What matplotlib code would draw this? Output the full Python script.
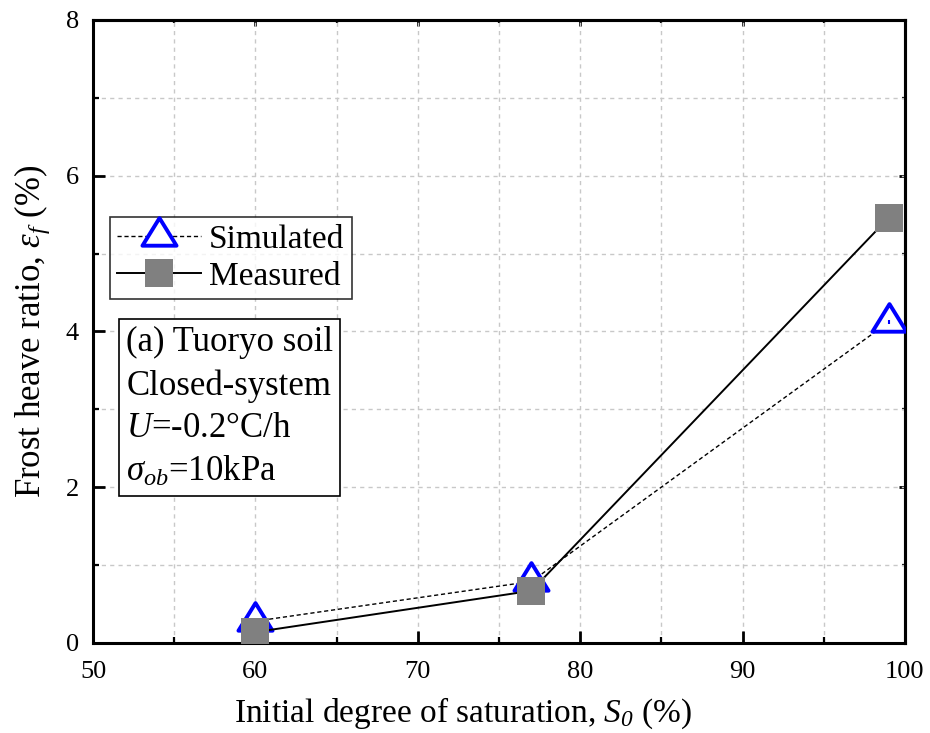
import matplotlib
matplotlib.use("Agg")
import matplotlib.pyplot as plt
from matplotlib.path import Path
from matplotlib.ticker import MultipleLocator

# Frost heave ratio vs. initial degree of saturation
saturation = [60, 77, 99]
simulated = [0.28, 0.79, 4.12]
measured = [0.14, 0.67, 5.46]

x_ticks = [50, 60, 70, 80, 90, 100]
y_ticks = [0, 2, 4, 6, 8]

plt.rcParams["font.family"] = ["Liberation Serif", "DejaVu Serif"]
plt.rcParams["mathtext.fontset"] = "custom"
plt.rcParams["mathtext.rm"] = "Liberation Serif"
plt.rcParams["mathtext.it"] = "Liberation Serif:italic"
plt.rcParams["mathtext.sf"] = "Liberation Serif:italic"
plt.rcParams["mathtext.bf"] = "Liberation Serif:bold"

fig = plt.figure(figsize=(9.3, 7.33), dpi=100)
ax = fig.add_axes([0.100, 0.1228, 0.873, 0.850])

# Triangle with its centroid at the origin (open triangle marker)
tri = Path([(-1.0, -0.54), (1.0, -0.54), (0.0, 1.08), (-1.0, -0.54)],
           [Path.MOVETO, Path.LINETO, Path.LINETO, Path.CLOSEPOLY])

ax.plot(saturation, simulated, linestyle=(0, (3, 2)), color="black", lw=1.0,
        marker=tri, markersize=26.5, markerfacecolor="white",
        markeredgecolor="#0000ff", markeredgewidth=2.8, zorder=3,
        label="Simulated")
ax.plot(saturation, simulated, linestyle="none", marker="|", markersize=3,
        markeredgecolor="#0000ff", markeredgewidth=1.5, zorder=3.5)
ax.plot(saturation, measured, linestyle="-", color="black", lw=1.4,
        marker="s", markersize=20.5, markerfacecolor="#808080",
        markeredgecolor="#808080", markeredgewidth=0, zorder=4,
        label="Measured")

ax.set_xlim(50, 100)
ax.set_ylim(0, 8)
ax.set_xticks(x_ticks)
ax.set_yticks(y_ticks)
ax.xaxis.set_minor_locator(MultipleLocator(5))
ax.yaxis.set_minor_locator(MultipleLocator(1))

ax.grid(True, which="both", color="#c8c8c8", linestyle=(0, (3, 3)), lw=1.0)
ax.set_axisbelow(True)

for s in ax.spines.values():
    s.set_linewidth(2.2)

ax.tick_params(axis="x", which="major", pad=13)
ax.tick_params(axis="y", which="major", pad=10)
ax.tick_params(axis="both", which="major", direction="in", length=8.5,
               width=2.0, labelsize=19, top=False, right=False)
ax.tick_params(axis="both", which="minor", direction="in", length=4.5,
               width=1.6, top=False, right=False)

# Short ticks on the top and right edges
top = ax.secondary_xaxis("top")
top.set_xticks(x_ticks)
top.xaxis.set_minor_locator(MultipleLocator(5))
top.tick_params(which="major", direction="in", length=4.5, width=2.0,
                labeltop=False)
top.tick_params(which="minor", direction="in", length=2.5, width=1.6)
right = ax.secondary_yaxis("right")
right.set_yticks(y_ticks)
right.yaxis.set_minor_locator(MultipleLocator(1))
right.tick_params(which="major", direction="in", length=4.5, width=2.0,
                  labelright=False)
right.tick_params(which="minor", direction="in", length=2.5, width=1.6)
for sec in (top, right):
    for s in sec.spines.values():
        s.set_linewidth(2.2)

ax.set_xlabel(r"Initial degree of saturation, $S_{\mathsf{0}}$ (%)",
              fontsize=24)
ax.xaxis.set_label_coords(0.456, -0.085)
ax.set_ylabel(r"Frost heave ratio, $\varepsilon_f$ (%)", fontsize=25,
              labelpad=10)

leg = ax.legend(loc="upper left", bbox_to_anchor=(0.021, 0.684),
                borderaxespad=0, fontsize=24, frameon=True, fancybox=False,
                edgecolor="black", handlelength=2.5, handletextpad=0.25,
                borderpad=0.22, labelspacing=0.2, markerscale=1.0)
leg.get_frame().set_linewidth(1.2)

ax.text(0.041, 0.247,
        "(a) Tuoryo soil\nClosed-system\n$U$=-0.2\u00b0C/h\n"
        r"$\sigma_{ob}$=10kPa",
        transform=ax.transAxes, fontsize=25, linespacing=1.38,
        va="bottom", ha="left", zorder=5,
        bbox=dict(boxstyle="square,pad=0.2", facecolor="white",
                  edgecolor="black", linewidth=1.2))

fig.savefig("out.png", dpi=100)
